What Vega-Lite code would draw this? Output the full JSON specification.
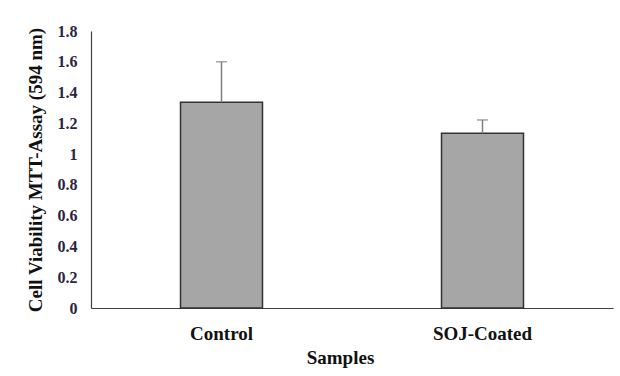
{
  "$schema": "https://vega.github.io/schema/vega-lite/v6.json",
  "width": 522,
  "height": 277,
  "autosize": {"type": "none"},
  "padding": {"left": 91, "top": 31, "right": 7, "bottom": 68},
  "background": "white",
  "config": {
    "view": {"stroke": null},
    "font": "Liberation Serif",
    "axisY": {
      "titleFont": "Liberation Serif",
      "titleFontSize": 19,
      "titleFontWeight": "bold",
      "titleColor": "#111",
      "titlePadding": 12,
      "labelOverlap": false,
      "labelFont": "Liberation Serif",
      "labelFontSize": 16,
      "labelFontWeight": "bold",
      "labelColor": "#2a2440",
      "labelPadding": 14,
      "ticks": false,
      "grid": false,
      "domainColor": "#404040",
      "domainWidth": 1.2
    }
  },
  "data": {
    "values": [
      {"sample": "Control", "value": 1.337, "upper": 1.6},
      {"sample": "SOJ-Coated", "value": 1.135, "upper": 1.222}
    ]
  },
  "encoding": {
    "x": {
      "field": "sample",
      "type": "nominal",
      "sort": null,
      "scale": {"paddingInner": 0, "paddingOuter": 0},
      "axis": {
        "title": "Samples",
        "titleFont": "Liberation Serif",
        "titleFontSize": 19,
        "titleFontWeight": "bold",
        "titleColor": "#111",
        "titlePadding": 5,
        "titleX": 249,
        "labelFont": "Liberation Serif",
        "labelFontSize": 19,
        "labelFontWeight": "bold",
        "labelColor": "#111",
        "labelAngle": 0,
        "labelPadding": 16,
        "ticks": false,
        "domainColor": "#404040",
        "domainWidth": 1.2
      }
    }
  },
  "layer": [
    {
      "mark": {"type": "bar", "size": 82, "fill": "#a6a6a6", "stroke": "#333333", "strokeWidth": 1.5},
      "encoding": {
        "y": {
          "field": "value",
          "type": "quantitative",
          "scale": {"domain": [0, 1.8], "nice": false},
          "axis": {
            "title": "Cell Viability MTT-Assay (594 nm)",
            "values": [0, 0.2, 0.4, 0.6, 0.8, 1, 1.2, 1.4, 1.6, 1.8],
            "format": ".1~f"
          }
        }
      }
    },
    {
      "mark": {"type": "rule", "color": "#7f7f7f", "strokeWidth": 1.5},
      "encoding": {
        "y": {
          "field": "value",
          "type": "quantitative",
          "axis": {
            "title": "Cell Viability MTT-Assay (594 nm)",
            "values": [0, 0.2, 0.4, 0.6, 0.8, 1, 1.2, 1.4, 1.6, 1.8],
            "format": ".1~f"
          }
        },
        "y2": {"field": "upper"}
      }
    },
    {
      "mark": {"type": "tick", "color": "#7f7f7f", "size": 11, "thickness": 1.5},
      "encoding": {
        "y": {
          "field": "upper",
          "type": "quantitative",
          "axis": {
            "title": "Cell Viability MTT-Assay (594 nm)",
            "values": [0, 0.2, 0.4, 0.6, 0.8, 1, 1.2, 1.4, 1.6, 1.8],
            "format": ".1~f"
          }
        }
      }
    }
  ]
}
